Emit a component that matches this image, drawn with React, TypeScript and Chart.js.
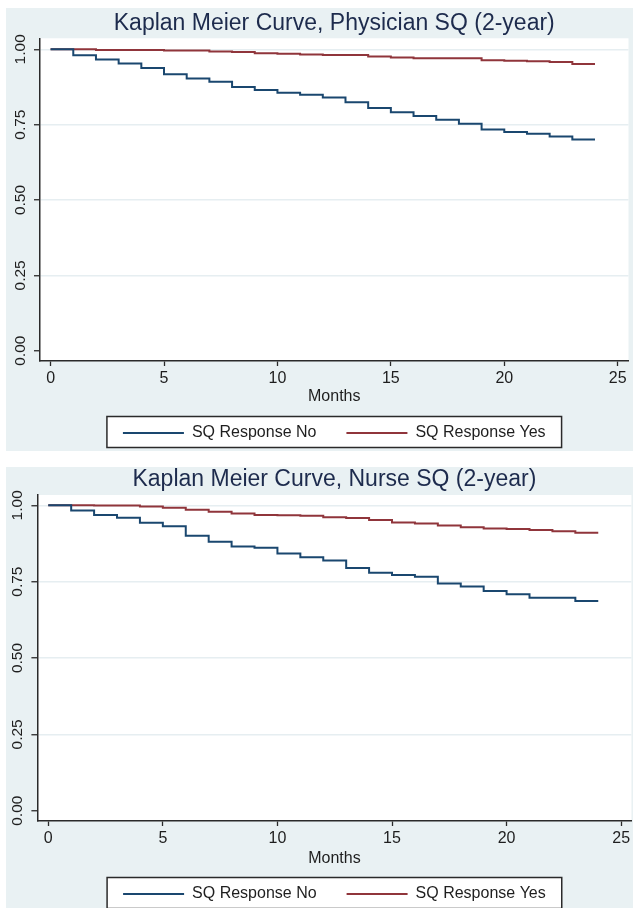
import React, { useEffect, useRef } from "react";
import { Chart, registerables } from "chart.js";

Chart.register(...registerables);

// ---------- data ----------
const MONTHS = [0, 1, 2, 3, 4, 5, 6, 7, 8, 9, 10, 11, 12, 13, 14, 15, 16, 17, 18, 19, 20, 21, 22, 23, 24];

const PHYSICIAN_NO = [1.0, 0.98, 0.966, 0.953, 0.938, 0.917, 0.903, 0.892, 0.875, 0.865, 0.856, 0.849, 0.84, 0.824, 0.805, 0.791, 0.779, 0.766, 0.753, 0.734, 0.726, 0.72, 0.711, 0.701, 0.701];
const PHYSICIAN_YES = [1.0, 1.0, 0.998, 0.998, 0.998, 0.996, 0.996, 0.993, 0.991, 0.987, 0.985, 0.983, 0.981, 0.981, 0.976, 0.973, 0.97, 0.97, 0.97, 0.964, 0.962, 0.96, 0.958, 0.951, 0.951];

const NURSE_NO = [1.0, 0.983, 0.968, 0.959, 0.943, 0.931, 0.9, 0.881, 0.865, 0.861, 0.842, 0.83, 0.819, 0.795, 0.779, 0.772, 0.766, 0.744, 0.734, 0.719, 0.709, 0.697, 0.697, 0.687, 0.687];
const NURSE_YES = [1.0, 1.0, 0.999, 0.999, 0.996, 0.992, 0.985, 0.979, 0.973, 0.968, 0.967, 0.966, 0.961, 0.958, 0.952, 0.944, 0.94, 0.934, 0.928, 0.924, 0.922, 0.919, 0.915, 0.91, 0.91];

const X_TICKS = [0, 5, 10, 15, 20, 25];
const Y_TICKS = [0, 0.25, 0.5, 0.75, 1];
const Y_TICK_LABELS = ["0.00", "0.25", "0.50", "0.75", "1.00"];
const SERIES_LABELS = ["SQ Response No", "SQ Response Yes"];
const TITLES = ["Kaplan Meier Curve, Physician SQ (2-year)", "Kaplan Meier Curve, Nurse SQ (2-year)"];
const X_TITLE = "Months";

// ---------- styles ----------
const FONT = "'Liberation Sans', Arial, Helvetica, sans-serif";
const BG = "#e9f1f3";
const GRID = "#e6eef1";
const NAVY = "rgb(26,71,111)";
const MAROON = "rgb(144,53,59)";
const AXIS = "#2a2a2a";
const TEXT = "#1e1e1e";
const TITLE_COLOR = "#1d2b4d";

Chart.defaults.font.family = FONT;

type Geo = {
  w: number;
  h: number;
  yAxisW: number;
  xAxisH: number;
  titlePad: { top: number; bottom: number };
  xTitlePadBottom: number;
  padRight: number;
  xMin: number;
  xMax: number;
  yMin: number;
  yMax: number;
};

const panelDecor = {
  id: "panelDecor",
  beforeDraw(chart: any) {
    const { ctx, chartArea: a } = chart;
    ctx.save();
    ctx.fillStyle = "#ffffff";
    ctx.fillRect(a.left, a.top, a.right - a.left, a.bottom - a.top);
    const lg: any = chart.legend;
    const hb = lg && lg.legendHitBoxes;
    if (hb && hb.length) {
      const first = hb[0];
      const last = hb[hb.length - 1];
      const cy = first.top + first.height / 2;
      const x0 = first.left - 16;
      const x1 = last.left + last.width + 16;
      ctx.fillRect(x0, cy - 16.5, x1 - x0, 31);
      ctx.strokeStyle = AXIS;
      ctx.lineWidth = 1.5;
      ctx.strokeRect(x0, cy - 16.5, x1 - x0, 31);
    }
    ctx.restore();
  },
};

function KMPanel(props: { title: string; no: number[]; yes: number[]; geo: Geo }) {
  const ref = useRef<HTMLCanvasElement | null>(null);
  const { title, no, yes, geo: g } = props;

  useEffect(() => {
    if (!ref.current) return;
    const chart = new Chart(ref.current, {
      type: "line",
      data: {
        datasets: [
          {
            label: SERIES_LABELS[0],
            data: MONTHS.map((m, i) => ({ x: m, y: no[i] })),
            borderColor: NAVY,
            backgroundColor: NAVY,
            borderWidth: 2,
            pointRadius: 0,
            stepped: "before",
            fill: false,
          },
          {
            label: SERIES_LABELS[1],
            data: MONTHS.map((m, i) => ({ x: m, y: yes[i] })),
            borderColor: MAROON,
            backgroundColor: MAROON,
            borderWidth: 2,
            pointRadius: 0,
            stepped: "before",
            fill: false,
          },
        ],
      },
      options: {
        responsive: false,
        maintainAspectRatio: false,
        animation: false,
        devicePixelRatio: 1,
        layout: { padding: { left: 0, right: g.padRight, top: 0, bottom: 0 } },
        plugins: {
          title: {
            display: true,
            text: title,
            fullSize: false,
            color: TITLE_COLOR,
            font: { size: 23, family: FONT, weight: "normal", lineHeight: 1 },
            padding: g.titlePad,
          },
          legend: {
            display: true,
            position: "bottom",
            fullSize: false,
            labels: {
              usePointStyle: true,
              pointStyle: "line",
              pointStyleWidth: 61,
              padding: 30,
              color: TEXT,
              font: { size: 16, family: FONT },
            },
          },
          tooltip: { enabled: false },
        },
        scales: {
          x: {
            type: "linear",
            bounds: "data",
            min: g.xMin,
            max: g.xMax,
            afterBuildTicks: (s: any) => {
              s.ticks = X_TICKS.map((v) => ({ value: v }));
            },
            afterFit: (s: any) => {
              s.height = g.xAxisH;
            },
            grid: {
              display: true,
              drawOnChartArea: false,
              drawTicks: true,
              tickLength: 5,
              tickColor: AXIS,
              tickWidth: 1.3,
            },
            border: { display: true, color: AXIS, width: 1.5 },
            ticks: {
              padding: 2.9,
              color: TEXT,
              autoSkip: false,
              maxRotation: 0,
              font: { size: 16, family: FONT, lineHeight: 1.2 },
              callback: (v: any) => String(v),
            },
            title: {
              display: true,
              text: X_TITLE,
              color: TEXT,
              font: { size: 16, family: FONT, lineHeight: 1 },
              padding: { top: 0, bottom: g.xTitlePadBottom },
            },
          },
          y: {
            type: "linear",
            bounds: "data",
            min: g.yMin,
            max: g.yMax,
            afterBuildTicks: (s: any) => {
              s.ticks = Y_TICKS.map((v) => ({ value: v }));
            },
            afterFit: (s: any) => {
              s.width = g.yAxisW;
            },
            grid: {
              color: (c: any) => (c.tick && c.tick.value === 0 ? "rgba(0,0,0,0)" : GRID),
              lineWidth: 1.5,
              drawTicks: true,
              tickLength: 6,
              tickColor: AXIS,
              tickWidth: 1.3,
            },
            border: { display: true, color: AXIS, width: 1.5 },
            ticks: {
              minRotation: 90,
              maxRotation: 90,
              crossAlign: "center",
              padding: -1.5,
              autoSkip: false,
              color: TEXT,
              font: { size: 15.5, family: FONT, lineHeight: 1.2 },
              callback: (v: any) => {
                const i = Y_TICKS.indexOf(v);
                return i >= 0 ? Y_TICK_LABELS[i] : "";
              },
            },
          },
        },
      },
      plugins: [panelDecor],
    } as any);
    return () => chart.destroy();
  }, [title, no, yes, g]);

  return <canvas ref={ref} width={g.w} height={g.h} style={{ width: g.w, height: g.h, display: "block" }} />;
}

const GEO_1: Geo = {
  w: 627,
  h: 443,
  yAxisW: 34,
  xAxisH: 34,
  titlePad: { top: 3.9, bottom: 3.4 },
  xTitlePadBottom: -10,
  padRight: 4.5,
  xMin: -0.467,
  xMax: 25.476,
  yMin: -0.0342,
  yMax: 1.0365,
};

const GEO_2: Geo = {
  w: 627,
  h: 445,
  yAxisW: 31.4,
  xAxisH: 35,
  titlePad: { top: 1.2, bottom: 3.8 },
  xTitlePadBottom: -10.7,
  padRight: 0,
  xMin: -0.474,
  xMax: 25.448,
  yMin: -0.0337,
  yMax: 1.0337,
};

export default function App() {
  return (
    <div style={{ position: "absolute", left: 0, top: 0, width: 633, height: 908, background: "#ffffff", overflow: "hidden" }}>
      <div style={{ position: "absolute", left: 6, top: 8, width: 627, height: 443, background: BG, overflow: "hidden" }}>
        <KMPanel title={TITLES[0]} no={PHYSICIAN_NO} yes={PHYSICIAN_YES} geo={GEO_1} />
      </div>
      <div style={{ position: "absolute", left: 6, top: 467, width: 627, height: 441, background: BG, overflow: "hidden" }}>
        <KMPanel title={TITLES[1]} no={NURSE_NO} yes={NURSE_YES} geo={GEO_2} />
      </div>
    </div>
  );
}
